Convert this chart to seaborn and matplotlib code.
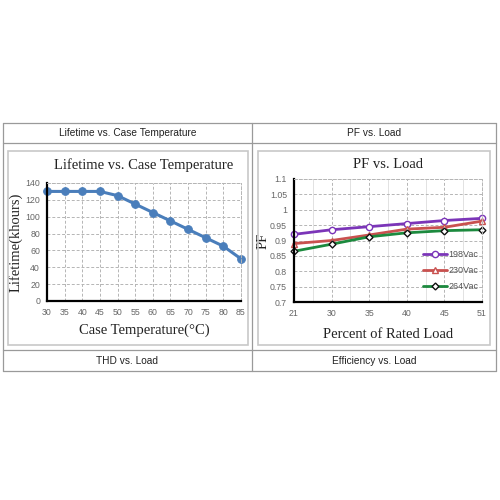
import pandas as pd
import matplotlib
matplotlib.use("Agg")
import matplotlib.pyplot as plt
from matplotlib.lines import Line2D
from matplotlib.patches import Rectangle
import seaborn as sns

# lifetime vs case temperature
case_temp = [30, 35, 40, 45, 50, 55, 60, 65, 70, 75, 80, 85]
lifetime = [130, 130, 130, 130, 125, 115, 105, 95, 85, 75, 65, 50]

# PF vs load
load_pct = ["21", "30", "35", "40", "45", "51"]
pf_198 = [0.920, 0.935, 0.945, 0.955, 0.965, 0.972]
pf_230 = [0.890, 0.900, 0.918, 0.937, 0.943, 0.963]
pf_264 = [0.865, 0.888, 0.912, 0.925, 0.932, 0.935]

headers_top = ["Lifetime vs. Case Temperature", "PF vs. Load"]
headers_bottom = ["THD vs. Load", "Efficiency vs. Load"]

sns.set_theme(style="white")
plt.rcParams["font.family"] = ["Liberation Sans", "DejaVu Sans"]

fig = plt.figure(figsize=(5, 5), dpi=100)

# table grid
tc = "#9a9a9a"
x0, x1, xm = 3, 496, 252
for yy in [123, 143, 350, 371]:
    fig.add_artist(Line2D([x0 / 500, x1 / 500], [1 - yy / 500] * 2, color=tc, lw=0.9))
for xx in [x0, xm, x1]:
    fig.add_artist(Line2D([xx / 500] * 2, [1 - 123 / 500, 1 - 371 / 500], color=tc, lw=0.9))

for i, t in enumerate(headers_top):
    cx = (x0 + xm) / 2 if i == 0 else (xm + x1) / 2
    fig.text(cx / 500, 1 - 133 / 500, t, ha="center", va="center", fontsize=7.3, color="#222222")
for i, t in enumerate(headers_bottom):
    cx = (x0 + xm) / 2 if i == 0 else (xm + x1) / 2
    fig.text(cx / 500, 1 - 360.5 / 500, t, ha="center", va="center", fontsize=7.3, color="#222222")

# inner chart frames
for (bx0, bx1) in [(8, 248), (258, 490)]:
    fig.add_artist(Rectangle((bx0 / 500, 1 - 345 / 500), (bx1 - bx0) / 500, 194 / 500,
                             fill=False, ec="#c8c8c8", lw=1.2, transform=fig.transFigure))

serif = ["Liberation Serif", "DejaVu Serif"]
grid_kw = dict(color="#b5b5b5", lw=0.7, ls=(0, (3, 2)))


def style_axes(ax):
    ax.grid(True, which="major", **grid_kw)
    for s in ["left", "bottom"]:
        ax.spines[s].set_color("black")
        ax.spines[s].set_linewidth(1.6)
    for s in ["top", "right"]:
        ax.spines[s].set_color("#b5b5b5")
        ax.spines[s].set_linewidth(0.7)
        ax.spines[s].set_linestyle((0, (3, 2)))
    ax.tick_params(axis="both", length=0, labelsize=6.3, labelcolor="#666666", pad=5)
    ax.set_axisbelow(True)


# left chart
ax1 = fig.add_axes([47 / 500, 1 - 301 / 500, 194 / 500, 118 / 500])
sns.lineplot(x=case_temp, y=lifetime, ax=ax1, color="#4a7ebb", lw=2.2,
             marker="o", ms=5.5, mec="#4a7ebb", mfc="#4a7ebb", clip_on=False)
ax1.set_xlim(30, 85)
ax1.set_ylim(0, 140)
ax1.set_xticks(case_temp)
ax1.set_yticks(range(0, 141, 20))
style_axes(ax1)
ax1.set_title("Lifetime vs. Case Temperature", fontsize=10.5, family=serif, color="#222222", pad=10)
ax1.set_xlabel("Case Temperature(\u00b0C)", fontsize=10.5, family=serif, color="#222222", labelpad=5)
ax1.set_ylabel("Lifetime(khours)", fontsize=10.5, family=serif, color="#222222", labelpad=2)

# right chart
ax2 = fig.add_axes([294 / 500, 1 - 302 / 500, 188 / 500, 123 / 500])
series = [("198Vac", pf_198, "#7b35b8", "o", "#7b35b8"),
          ("230Vac", pf_230, "#c9514f", "^", "#c9514f"),
          ("264Vac", pf_264, "#1c8a3e", "D", "#111111")]
for name, vals, col, mk, mec in series:
    sns.lineplot(x=load_pct, y=vals, ax=ax2, color=col, lw=2.0, marker=mk,
                 ms=4.5 if mk != "D" else 3.5, mfc="white", mec=mec, mew=1.0,
                 label=name, clip_on=False)
ax2.set_xlim(0, 5)
ax2.set_ylim(0.7, 1.1)
ax2.set_yticks([0.7, 0.75, 0.8, 0.85, 0.9, 0.95, 1.0, 1.05, 1.1])
ax2.set_yticklabels(["0.7", "0.75", "0.8", "0.85", "0.9", "0.95", "1", "1.05", "1.1"])
ax2.set_xticks([0.5, 1.5, 2.5, 3.5, 4.5], minor=True)
style_axes(ax2)
ax2.tick_params(axis="x", which="minor", length=0)
ax2.grid(True, which="minor", axis="x", color="#dddddd", lw=0.6, ls="-")
ax2.set_title("PF vs. Load", fontsize=10.5, family=serif, color="#222222", pad=8)
ax2.set_xlabel("Percent of Rated Load", fontsize=10.5, family=serif, color="#222222", labelpad=7)
ax2.set_ylabel("PF", fontsize=10.5, family=serif, color="#222222", labelpad=0)
leg = ax2.legend(loc="lower right", frameon=False, fontsize=6.5, handlelength=2.6,
                 labelspacing=0.75, borderaxespad=0.0, handletextpad=0.2,
                 bbox_to_anchor=(1.0, 0.06))
for t in leg.get_texts():
    t.set_color("#555555")

fig.savefig("out.png", dpi=100)
